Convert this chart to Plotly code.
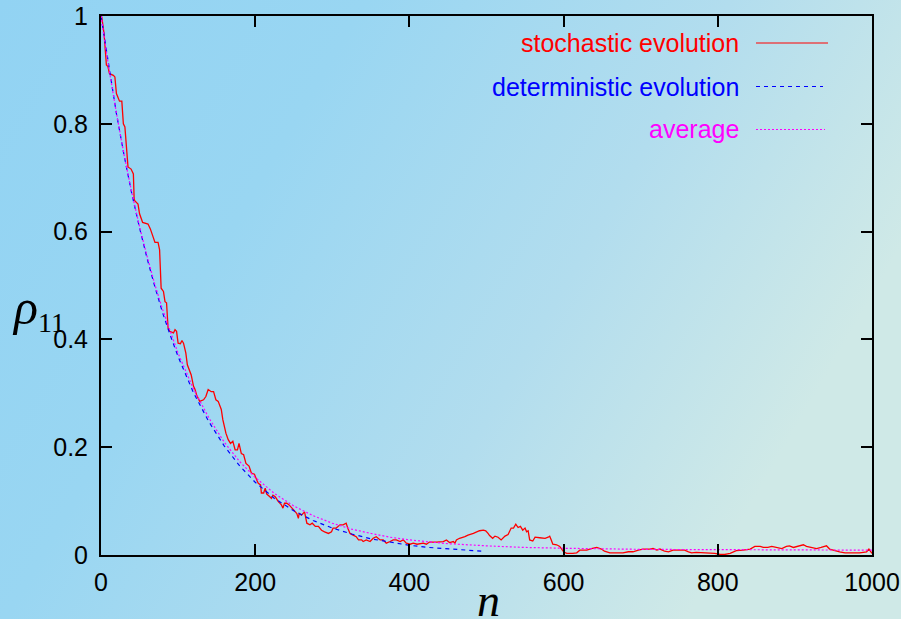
import base64
import plotly.graph_objects as go

# ---------------- data ----------------
stoch_n = [0, 1, 4, 6, 7, 9, 11, 16, 18, 20, 24, 27, 29, 31, 33, 35, 39, 42, 43, 44, 48, 50, 54, 61, 64,
           67, 70, 74, 76, 78, 81, 83, 85, 87, 89, 94, 96, 98, 100, 103, 105, 107, 110, 112, 114, 117,
           120, 122, 124, 128, 133, 136, 139, 143, 146, 149, 152, 154, 156, 158, 162, 165, 168, 171,
           174, 177, 179, 182, 185, 188, 192, 195, 199, 202, 204, 207, 208, 211, 213, 215, 217, 219,
           221, 223, 226, 228, 230, 234, 236, 238, 241, 244, 249, 252, 254, 256, 257, 260, 264, 267,
           271, 274, 278, 282, 286, 290, 295, 299, 301, 305, 310, 314, 318, 320, 323, 327, 331, 334,
           338, 340, 344, 349, 353, 357, 362, 366, 370, 375, 379, 383, 388, 392, 396, 401, 405, 410,
           418, 422, 426, 435, 444, 448, 452, 457, 459, 461, 465, 472, 476, 483, 487, 491, 496, 499,
           502, 504, 508, 511, 515, 519, 524, 528, 532, 535, 538, 541, 544, 547, 550, 552, 554, 556,
           560, 563, 569, 576, 580, 582, 584, 586, 591, 595, 600, 604, 612, 617, 621, 630, 636, 643,
           649, 653, 660, 669, 677, 684, 690, 697, 703, 712, 716, 721, 725, 731, 736, 742, 751, 757,
           762, 766, 772, 781, 790, 796, 803, 809, 816, 824, 833, 842, 848, 855, 859, 865, 870, 876,
           883, 889, 893, 898, 904, 911, 915, 921, 928, 934, 941, 945, 952, 958, 965, 971, 984, 993,
           996, 1000]
stoch_v = [1.0, 0.998, 0.967, 0.93, 0.909, 0.906, 0.893, 0.890, 0.887, 0.856, 0.842, 0.842, 0.800, 0.794,
           0.751, 0.720, 0.716, 0.707, 0.660, 0.657, 0.651, 0.633, 0.617, 0.614, 0.605, 0.592, 0.580,
           0.580, 0.566, 0.495, 0.489, 0.470, 0.468, 0.421, 0.415, 0.412, 0.418, 0.415, 0.393, 0.392,
           0.398, 0.393, 0.375, 0.353, 0.344, 0.334, 0.313, 0.307, 0.297, 0.285, 0.288, 0.294, 0.307,
           0.303, 0.303, 0.288, 0.285, 0.279, 0.270, 0.251, 0.226, 0.214, 0.207, 0.211, 0.195, 0.195,
           0.207, 0.188, 0.186, 0.170, 0.165, 0.152, 0.150, 0.139, 0.133, 0.130, 0.115, 0.115, 0.124,
           0.113, 0.111, 0.108, 0.105, 0.111, 0.108, 0.102, 0.099, 0.093, 0.087, 0.096, 0.096, 0.093,
           0.084, 0.080, 0.077, 0.068, 0.077, 0.074, 0.080, 0.059, 0.056, 0.059, 0.053, 0.053, 0.046,
           0.043, 0.040, 0.043, 0.050, 0.050, 0.056, 0.056, 0.059, 0.050, 0.040, 0.037, 0.034, 0.028,
           0.028, 0.025, 0.028, 0.025, 0.031, 0.034, 0.028, 0.028, 0.022, 0.025, 0.028, 0.028, 0.025,
           0.028, 0.022, 0.020, 0.022, 0.020, 0.022, 0.020, 0.024, 0.024, 0.025, 0.028, 0.023, 0.025,
           0.022, 0.028, 0.031, 0.034, 0.037, 0.040, 0.042, 0.045, 0.046, 0.045, 0.040, 0.036, 0.031,
           0.035, 0.033, 0.028, 0.035, 0.038, 0.050, 0.050, 0.057, 0.051, 0.053, 0.046, 0.050, 0.043,
           0.045, 0.028, 0.026, 0.033, 0.032, 0.031, 0.033, 0.035, 0.028, 0.020, 0.019, 0.016, 0.006,
           0.003, 0.003, 0.004, 0.009, 0.009, 0.012, 0.014, 0.011, 0.007, 0.004, 0.004, 0.004, 0.006,
           0.006, 0.009, 0.011, 0.011, 0.012, 0.009, 0.011, 0.007, 0.006, 0.009, 0.009, 0.009, 0.006,
           0.004, 0.005, 0.004, 0.004, 0.003, 0.001, 0.001, 0.003, 0.008, 0.009, 0.011, 0.016, 0.016,
           0.014, 0.014, 0.016, 0.014, 0.012, 0.016, 0.017, 0.014, 0.016, 0.019, 0.016, 0.014, 0.012,
           0.014, 0.017, 0.011, 0.008, 0.006, 0.004, 0.004, 0.004, 0.006, 0.011, 0.003]

determ_n = [0, 10, 20, 30, 40, 50, 60, 70, 80, 90, 100, 120, 140, 160, 180, 200, 225, 250, 275, 300,
            325, 350, 375, 400, 425, 450, 475, 495]
determ_v = [1.0, 0.905, 0.819, 0.741, 0.670, 0.607, 0.549, 0.497, 0.449, 0.407, 0.368, 0.301, 0.247,
            0.202, 0.165, 0.135, 0.105, 0.082, 0.064, 0.050, 0.039, 0.030, 0.024, 0.018, 0.014, 0.011,
            0.009, 0.007]

avg_n = [0, 10, 20, 30, 40, 50, 60, 70, 80, 90, 100, 120, 140, 160, 180, 200, 225, 250, 275, 300, 325,
         350, 375, 400, 450, 500, 550, 600, 650, 700, 750, 800, 850, 900, 950, 1000]
avg_v = [1.0, 0.905, 0.820, 0.742, 0.672, 0.609, 0.553, 0.501, 0.455, 0.413, 0.374, 0.308, 0.254,
         0.209, 0.173, 0.144, 0.114, 0.091, 0.073, 0.059, 0.048, 0.040, 0.033, 0.028, 0.021, 0.017,
         0.014, 0.0125, 0.011, 0.0105, 0.0102, 0.0100, 0.0098, 0.0095, 0.0093, 0.0090]

x_ticks = [0, 200, 400, 600, 800, 1000]
x_tick_labels = ["0", "200", "400", "600", "800", "1000"]
y_ticks = [0, 0.2, 0.4, 0.6, 0.8, 1.0]
y_tick_labels = ["0", "0.2", "0.4", "0.6", "0.8", "1"]

series_names = ["stochastic evolution", "deterministic evolution", "average"]
series_colors = ["#FF0000", "#0000FF", "#FF00FF"]

# ---------------- layout geometry ----------------
W, H = 901, 619
ML, MR, MT, MB = 101, 29, 16, 64
PW, PH = W - ML - MR, H - MT - MB


def px_x(p):
    return (p - ML) / PW


def px_y(p):
    return (H - MB - p) / PH


svg = (
    "<svg xmlns='http://www.w3.org/2000/svg' width='901' height='619' preserveAspectRatio='none'>"
    "<defs><linearGradient id='g' x1='0' y1='0' x2='1' y2='0.4'>"
    "<stop offset='0' stop-color='#92D3F3'/>"
    "<stop offset='0.35' stop-color='#99D6F2'/>"
    "<stop offset='0.7' stop-color='#B2DDEE'/>"
    "<stop offset='1' stop-color='#CFE9E7'/>"
    "</linearGradient></defs>"
    "<rect x='0' y='0' width='901' height='619' fill='url(#g)'/></svg>"
)
bg_src = "data:image/svg+xml;base64," + base64.b64encode(svg.encode()).decode()

fig = go.Figure()
fig.add_trace(go.Scatter(x=stoch_n, y=stoch_v, mode="lines", name=series_names[0],
                         line=dict(color=series_colors[0], width=1.3)))
fig.add_trace(go.Scatter(x=determ_n, y=determ_v, mode="lines", name=series_names[1],
                         line=dict(color=series_colors[1], width=1.2, dash="4px,4px")))
fig.add_trace(go.Scatter(x=avg_n, y=avg_v, mode="lines", name=series_names[2],
                         line=dict(color=series_colors[2], width=1.2, dash="2px,2px")))

axis_common = dict(showgrid=False, zeroline=False, showline=True, linecolor="black", linewidth=2,
                   mirror="ticks", ticks="inside", ticklen=11, tickwidth=2, tickcolor="black",
                   automargin=False,
                   tickfont=dict(family="Liberation Sans, Arial, sans-serif", size=25, color="black"))

fig.update_xaxes(range=[0, 1000], tickvals=x_ticks, ticktext=x_tick_labels, ticklabelstandoff=4,
                 **axis_common)
fig.update_yaxes(range=[0, 1], tickvals=y_ticks, ticktext=y_tick_labels, ticklabelstandoff=6,
                 **axis_common)

annotations = []
shapes = []
legend_text_y = [43, 86.5, 129.5]
legend_line_end = [828, 823, 825]
dashes = ["solid", "4px,4px", "2px,2px"]
for i in range(3):
    annotations.append(dict(xref="paper", yref="paper", x=px_x(741), y=px_y(legend_text_y[i]),
                            xanchor="right", yanchor="middle", showarrow=False,
                            text=series_names[i],
                            font=dict(family="Liberation Sans, Arial, sans-serif", size=25,
                                      color=series_colors[i])))
    shapes.append(dict(type="line", xref="paper", yref="paper",
                       x0=px_x(756), x1=px_x(legend_line_end[i]),
                       y0=px_y(legend_text_y[i]), y1=px_y(legend_text_y[i]),
                       line=dict(color=series_colors[i], width=1.2, dash=dashes[i])))

annotations.append(dict(xref="paper", yref="paper", x=px_x(38), y=px_y(308), xanchor="center",
                        yanchor="middle", showarrow=False,
                        text=("<i><span style='font-size:50px'>ρ</span></i>"
                              "<sub><span style='font-size:28px'>11</span></sub>"),
                        font=dict(family="Liberation Serif, Times New Roman, serif", size=38,
                                  color="black")))
annotations.append(dict(xref="paper", yref="paper", x=px_x(488), y=px_y(600), xanchor="center",
                        yanchor="middle", showarrow=False, text="<i>n</i>",
                        font=dict(family="Liberation Serif, Times New Roman, serif", size=46,
                                  color="black")))

fig.update_layout(
    template="none",
    width=W, height=H,
    margin=dict(l=ML, r=MR, t=MT, b=MB, pad=0, autoexpand=False),
    paper_bgcolor="#A5D9F0",
    plot_bgcolor="rgba(0,0,0,0)",
    showlegend=False,
    annotations=annotations,
    shapes=shapes,
    images=[dict(source=bg_src, xref="paper", yref="paper", x=px_x(0), y=px_y(0),
                 sizex=W / PW, sizey=H / PH, xanchor="left", yanchor="top",
                 sizing="stretch", layer="below")],
)

page_fix = ("document.body.style.margin='0';document.body.style.padding='0';"
            "document.body.style.overflow='hidden';"
            "document.documentElement.style.overflow='hidden';")

fig.write_html("out.html", post_script=page_fix, config={"displayModeBar": False})
